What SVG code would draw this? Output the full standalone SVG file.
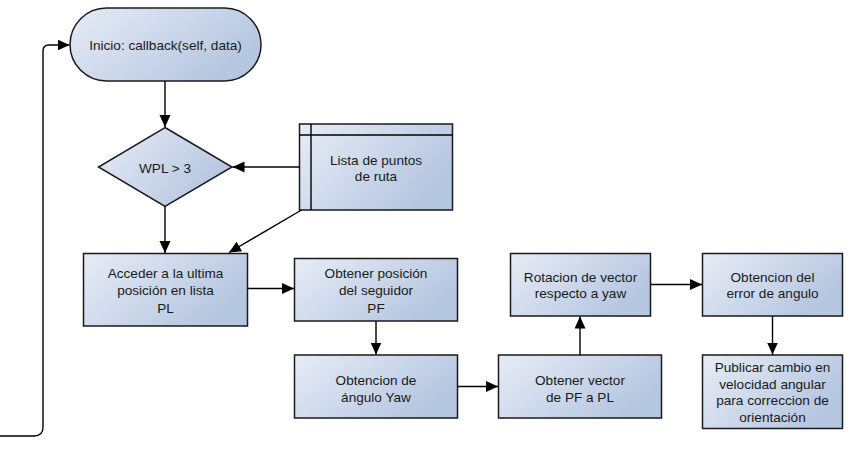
<svg xmlns="http://www.w3.org/2000/svg" width="860" height="449" viewBox="0 0 860 449">
<defs>
<linearGradient id="g" x1="0" y1="0" x2="1" y2="0.5">
<stop offset="0" stop-color="#e7ecf6"/>
<stop offset="1" stop-color="#b5c6e0"/>
</linearGradient>
<marker id="ah" markerUnits="userSpaceOnUse" markerWidth="13" markerHeight="12" refX="12" refY="5.5" orient="auto">
<path d="M0,0 L12,5.5 L0,11 z" fill="#000"/>
</marker>
<style>
.n{fill:url(#g);stroke:#1a1a1a;stroke-width:1.5}
.t{font-family:"Liberation Sans",Arial,sans-serif;font-size:13.6px;fill:#1a1a1a;text-anchor:middle}
.c{fill:none;stroke:#000;stroke-width:1.4;marker-end:url(#ah)}
.p{fill:none;stroke:#000;stroke-width:1.4}
</style>
</defs>
<rect width="860" height="449" fill="#fff"/>
<g id="start">
<rect class="n" x="70" y="8" width="191" height="73" rx="36.5" ry="36.5"/>
<text class="t" x="165.5" y="49.5">Inicio: callback(self, data)</text>
</g>
<g id="decision">
<polygon class="n" points="165,127.5 232,167 165,206.5 98.5,167"/>
<text class="t" x="165" y="172.5">WPL &gt; 3</text>
</g>
<g id="lista">
<rect class="n" x="299.5" y="124" width="153" height="86"/>
<line class="p" x1="311" y1="124" x2="311" y2="210" stroke-width="1.2"/>
<line class="p" x1="299.5" y1="135" x2="452.5" y2="135" stroke-width="1.2"/>
<text class="t" x="376" y="164.5">Lista de puntos</text>
<text class="t" x="376" y="181">de ruta</text>
</g>
<g id="acceder">
<rect class="n" x="83.5" y="253.5" width="164" height="72.5"/>
<text class="t" x="165.5" y="278">Acceder a la ultima</text>
<text class="t" x="165.5" y="295.3">posición en lista</text>
<text class="t" x="165.5" y="312.6">PL</text>
</g>
<g id="seguidor">
<rect class="n" x="294.5" y="258.5" width="163" height="62.5"/>
<text class="t" x="376" y="278">Obtener posición</text>
<text class="t" x="376" y="295.3">del seguidor</text>
<text class="t" x="376" y="312.6">PF</text>
</g>
<g id="yaw">
<rect class="n" x="294.5" y="355" width="163" height="63"/>
<text class="t" x="376" y="385">Obtencion de</text>
<text class="t" x="376" y="401.5">ángulo Yaw</text>
</g>
<g id="vector">
<rect class="n" x="498.5" y="355" width="163" height="63"/>
<text class="t" x="580" y="385">Obtener vector</text>
<text class="t" x="580" y="401.5">de PF a PL</text>
</g>
<g id="rotacion">
<rect class="n" x="510.5" y="253.5" width="140" height="62.5"/>
<text class="t" x="580.5" y="281.5">Rotacion de vector</text>
<text class="t" x="580.5" y="298">respecto a yaw</text>
</g>
<g id="error">
<rect class="n" x="702.5" y="253.5" width="140" height="62.5"/>
<text class="t" x="772.5" y="281.5">Obtencion del</text>
<text class="t" x="772.5" y="298">error de angulo</text>
</g>
<g id="publicar">
<rect class="n" x="702.5" y="355" width="140" height="73.5"/>
<text class="t" x="772.5" y="372">Publicar cambio en</text>
<text class="t" x="772.5" y="388.7">velocidad angular</text>
<text class="t" x="772.5" y="405.4">para correccion de</text>
<text class="t" x="772.5" y="422">orientación</text>
</g>
<g id="connectors">
<path class="c" d="M165,81 L165,127"/>
<path class="c" d="M299.5,167 L232.5,167"/>
<path class="c" d="M165,206.5 L165,253"/>
<path class="c" d="M301.5,210 L229,252.5"/>
<path class="c" d="M247.5,288.5 L294,288.5"/>
<path class="c" d="M376,321 L376,354.5"/>
<path class="c" d="M457.5,386.5 L498,386.5"/>
<path class="c" d="M580,355 L580,316.5"/>
<path class="c" d="M650.5,284.5 L702,284.5"/>
<path class="c" d="M772.5,316 L772.5,354.5"/>
<path class="c" d="M0,436 L34,436 Q43,436 43,427 L43,51 Q43,45 49,45 L69.5,45"/>
</g>
</svg>
